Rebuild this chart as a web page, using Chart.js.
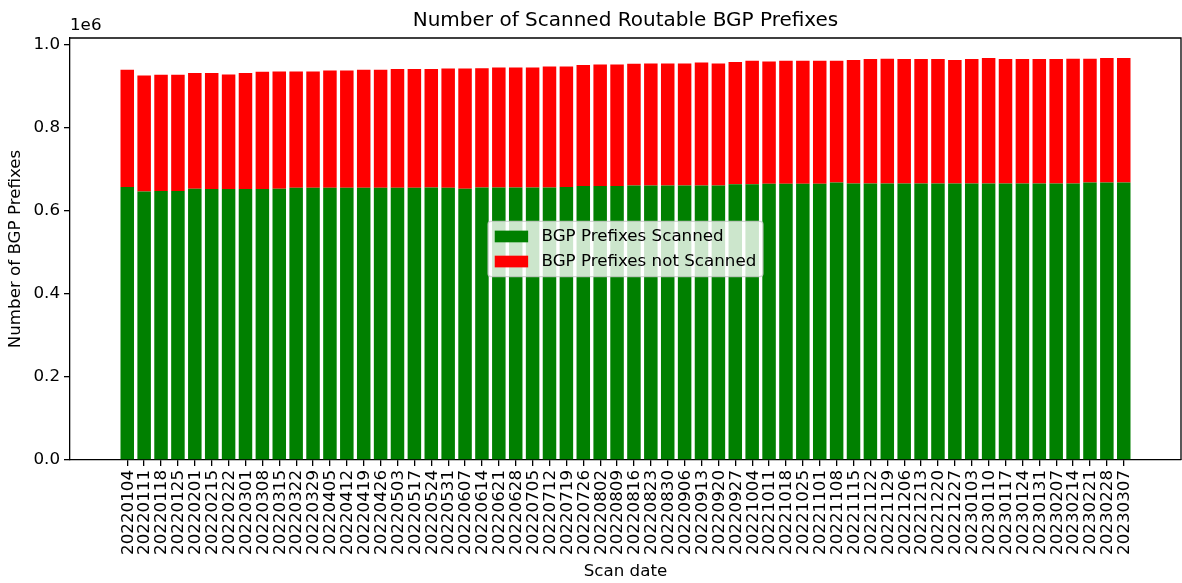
<!DOCTYPE html>
<html>
<head>
<meta charset="utf-8">
<title>Number of Scanned Routable BGP Prefixes</title>
<script src="https://cdn.jsdelivr.net/npm/chart.js@4.4.1/dist/chart.umd.min.js"></script>
<style>
  html, body { margin: 0; padding: 0; background: #fff; }
  canvas { display: block; }
</style>
</head>
<body>
<canvas id="prefixChart" width="1182" height="583"></canvas>
<script>
const scanDates = [
  '20220104', '20220111', '20220118', '20220125', '20220201', '20220215', '20220222', '20220301',
  '20220308', '20220315', '20220322', '20220329', '20220405', '20220412', '20220419', '20220426',
  '20220503', '20220517', '20220524', '20220531', '20220607', '20220614', '20220621', '20220628',
  '20220705', '20220712', '20220719', '20220726', '20220802', '20220809', '20220816', '20220823',
  '20220830', '20220906', '20220913', '20220920', '20220927', '20221004', '20221011', '20221018',
  '20221025', '20221101', '20221108', '20221115', '20221122', '20221129', '20221206', '20221213',
  '20221220', '20221227', '20230103', '20230110', '20230117', '20230124', '20230131', '20230207',
  '20230214', '20230221', '20230228', '20230307'
];

const scanned = [
  656700, 646300, 647100, 647100, 652700, 651900, 651900, 651900, 651900, 652700,
  655100, 655100, 655100, 655100, 655100, 655100, 655100, 655100, 655900, 655100,
  652700, 655900, 655900, 655900, 655900, 655900, 656700, 659100, 659100, 659100,
  660700, 660700, 660700, 660700, 660700, 660700, 663900, 663900, 664700, 664700,
  664700, 664700, 667900, 665500, 665500, 665500, 665500, 665500, 665500, 665500,
  665500, 665500, 665500, 665500, 665500, 665500, 665500, 667900, 667900, 667900
];

const notScanned = [
  282600, 279300, 280100, 280100, 278400, 279200, 276100, 279200, 282500, 282300,
  279900, 279900, 282500, 282500, 283900, 283900, 285700, 285700, 284900, 287300,
  289700, 287100, 288900, 288900, 288900, 291100, 290300, 291300, 292900, 292900,
  292900, 293700, 293700, 293700, 296100, 293700, 293700, 296900, 294500, 296100,
  296100, 296100, 292900, 296900, 299300, 300100, 299300, 299300, 299300, 296900,
  299300, 301700, 299300, 299300, 299300, 299300, 300100, 297700, 299300, 299300
];

const yTickValues = [0, 200000, 400000, 600000, 800000, 1000000];

const FONT = 'DejaVu Sans';
const FS = 16.7;

// matplotlib-like autoscale margins (5%) around the bars
const n = scanDates.length;
const xSpan = (n - 1) + 0.8;
const xMin = -0.4 - 0.05 * xSpan;
const xMax = (n - 1) + 0.4 + 0.05 * xSpan;
const yMax = Math.max(...scanned.map((v, i) => v + notScanned[i])) * 1.05;

function drawLegendBox(chart) {
  const { ctx, chartArea: a } = chart;
  const items = chart.data.datasets;
  ctx.save();
  ctx.font = `${FS}px "${FONT}"`;
  const textW = Math.max(...items.map(d => ctx.measureText(d.label).width));
  const pad = 0.4 * FS, hl = 2 * FS, hh = 0.7 * FS, tp = 0.8 * FS, sp = 0.5 * FS;
  const w = pad * 2 + hl + tp + textW;
  const h = pad * 2 + FS * items.length + sp * (items.length - 1);
  const x0 = (a.left + a.right) / 2 - w / 2;
  const y0 = (a.top + a.bottom) / 2 - h / 2;

  ctx.beginPath();
  ctx.roundRect(x0, y0, w, h, 3);
  ctx.fillStyle = 'rgba(255,255,255,0.8)';
  ctx.fill();
  ctx.strokeStyle = 'rgba(204,204,204,0.8)';
  ctx.lineWidth = 1.3;
  ctx.stroke();

  items.forEach((d, i) => {
    const cy = y0 + pad + i * (FS + sp) + FS / 2;
    ctx.fillStyle = d.backgroundColor;
    ctx.fillRect(x0 + pad, cy - hh / 2, hl, hh);
    ctx.fillStyle = '#000';
    ctx.textAlign = 'left';
    ctx.textBaseline = 'middle';
    ctx.fillText(d.label, x0 + pad + hl + tp, cy);
  });
  ctx.restore();
}

const framePlugin = {
  id: 'frame',
  afterDatasetsDraw(chart) {
    drawLegendBox(chart);
  },
  afterDraw(chart) {
    const { ctx, chartArea: a } = chart;
    ctx.save();
    // top and right spines
    ctx.strokeStyle = '#000';
    ctx.lineWidth = 1.3;
    ctx.beginPath();
    ctx.moveTo(a.left, a.top);
    ctx.lineTo(a.right, a.top);
    ctx.lineTo(a.right, a.bottom);
    ctx.stroke();
    // scale factor above the y axis
    ctx.fillStyle = '#000';
    ctx.font = `${FS}px "${FONT}"`;
    ctx.textAlign = 'left';
    ctx.textBaseline = 'bottom';
    ctx.fillText('1e6', a.left, a.top - 4);
    ctx.restore();
  }
};

Chart.defaults.font.family = FONT;
Chart.defaults.color = '#000';

const axisGrid = { offset: false, drawOnChartArea: false, drawTicks: true, tickLength: 6, color: '#000', lineWidth: 1.3 };
const axisBorder = { color: '#000', width: 1.3 };

const ctx = document.getElementById('prefixChart').getContext('2d');
new Chart(ctx, {
  type: 'bar',
  data: {
    datasets: [
      {
        label: 'BGP Prefixes Scanned',
        data: scanned.map((v, i) => ({ x: i, y: v })),
        backgroundColor: '#008000'
      },
      {
        label: 'BGP Prefixes not Scanned',
        data: notScanned.map((v, i) => ({ x: i, y: v })),
        backgroundColor: '#ff0000'
      }
    ]
  },
  options: {
    responsive: false,
    animation: false,
    layout: { padding: { right: 1 } },
    datasets: { bar: { barPercentage: 0.8, categoryPercentage: 1.0, borderWidth: 0 } },
    plugins: {
      legend: { display: false },
      tooltip: { enabled: false },
      title: {
        display: true,
        fullSize: false,
        text: 'Number of Scanned Routable BGP Prefixes',
        font: { size: 20, weight: 'normal' },
        padding: { top: 9, bottom: 5 }
      }
    },
    scales: {
      x: {
        type: 'linear',
        stacked: true,
        offset: false,
        min: xMin,
        max: xMax,
        afterBuildTicks: s => { s.ticks = scanDates.map((d, i) => ({ value: i })); },
        afterFit: s => { s.height = 123; },
        ticks: {
          autoSkip: false,
          minRotation: 90,
          maxRotation: 90,
          padding: 4,
          labelOffset: 1,
          font: { size: FS },
          callback: v => scanDates[v]
        },
        grid: axisGrid,
        border: axisBorder,
        title: { display: true, text: 'Scan date', font: { size: FS }, padding: { top: 0, bottom: 1 } }
      },
      y: {
        stacked: true,
        min: 0,
        max: yMax,
        afterBuildTicks: s => { s.ticks = yTickValues.map(v => ({ value: v })); },
        afterFit: s => { s.width = 70; },
        ticks: {
          padding: 4,
          font: { size: FS },
          callback: v => (v / 1e6).toFixed(1)
        },
        grid: axisGrid,
        border: axisBorder,
        title: { display: true, text: 'Number of BGP Prefixes', font: { size: FS }, padding: { top: 6, bottom: 0 } }
      }
    }
  },
  plugins: [framePlugin]
});
</script>
</body>
</html>
